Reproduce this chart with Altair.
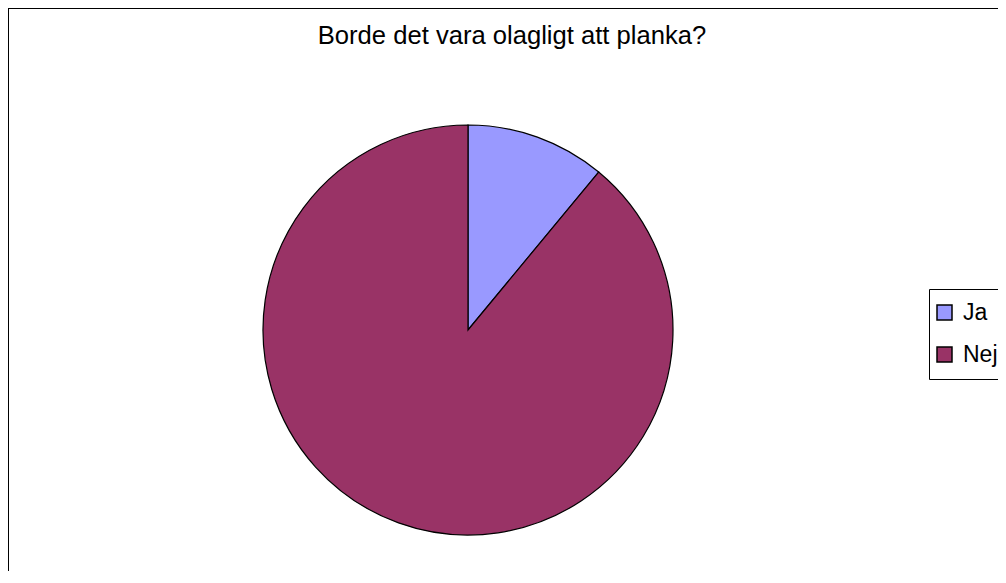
import altair as alt
import pandas as pd

# Data
categories = ["Ja", "Nej"]
values = [11, 89]
order_idx = [0, 1]
colors = ["#9999FF", "#993366"]
title_text = "Borde det vara olagligt att planka?"

df = pd.DataFrame({"svar": categories, "andel": values, "ordning": order_idx})

W, H = 990, 563
FONT = "Liberation Sans"

pie = alt.Chart(df).mark_arc(stroke="black", strokeWidth=1.2, radius=205).encode(
    theta=alt.Theta("andel:Q", stack=True),
    order=alt.Order("ordning:Q"),
    color=alt.Color(
        "svar:N",
        scale=alt.Scale(domain=categories, range=colors),
        legend=alt.Legend(
            title=None,
            orient="none",
            legendX=921,
            legendY=281,
            strokeColor="black",
            padding=12,
            rowPadding=18,
            symbolOffset=-8,
            symbolType="square",
            symbolSize=225,
            symbolStrokeColor="black",
            symbolStrokeWidth=1.5,
            symbolOpacity=1,
            labelFont=FONT,
            labelFontSize=23,
            labelColor="black",
            labelOffset=7,
        ),
    ),
    x=alt.value(460),
    y=alt.value(322),
)

frame = alt.Chart(alt.Data(values=[{"k": 1}])).mark_rect(
    filled=False, stroke="black", strokeWidth=2
).encode(
    x=alt.value(0), y=alt.value(0), x2=alt.value(1100), y2=alt.value(700)
)

chart = alt.layer(frame, pie).properties(
    width=W,
    height=H,
    padding=0,
    autosize=alt.AutoSizeParams(type="none"),
    title=alt.TitleParams(
        text=title_text,
        font=FONT,
        fontSize=25.6,
        fontWeight="normal",
        color="black",
        anchor="middle",
        frame="group",
        offset=-43,
        dx=9,
    ),
).configure_view(stroke=None)

chart.save("out.html", embed_options={"renderer": "svg", "actions": False})
